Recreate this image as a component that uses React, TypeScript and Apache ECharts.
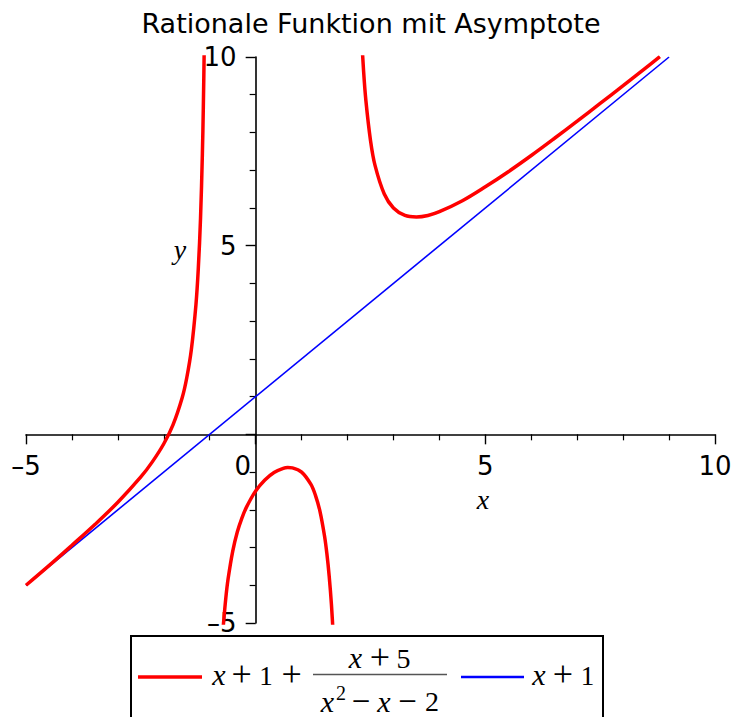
import React, { useEffect, useRef } from "react";
import * as echarts from "echarts";

const TITLE = "Rationale Funktion mit Asymptote";

// f(x) = x + 1 + (x + 5) / (x² − x − 2), branch left of the pole at x = −1
const leftBranchX = [-5, -4.5, -4, -3.5, -3, -2.5, -2.25, -2, -1.8, -1.6, -1.5, -1.4, -1.3, -1.25, -1.2, -1.16, -1.14, -1.12, -1.1];
const leftBranchY = [-4, -3.48, -2.94, -2.39, -1.8, -1.13, -0.73, -0.25, 0.25, 0.97, 1.5, 2.25, 3.44, 4.37, 5.74, 7.44, 8.64, 10.24, 12.5];

// branch between the poles at x = −1 and x = 2
const midBranchX = [-0.72, -0.7, -0.65, -0.6, -0.5, -0.4, -0.3, -0.2, 0, 0.2, 0.4, 0.6, 0.7, 0.8, 1.0, 1.2, 1.3, 1.4, 1.5, 1.55, 1.6, 1.65, 1.7];
const midBranchY = [-5.34, -5.01, -4.34, -3.83, -3.1, -2.59, -2.22, -1.93, -1.5, -1.21, -1.01, -0.9, -0.88, -0.89, -1.0, -1.32, -1.61, -2.04, -2.7, -3.16, -3.75, -4.52, -5.57];

// branch right of the pole at x = 2
const rightBranchX = [2.28, 2.3, 2.35, 2.4, 2.5, 2.6, 2.8, 3, 3.25, 3.5, 3.75, 4, 4.5, 5, 5.5, 6, 6.5, 7, 7.5, 8, 8.5, 8.8];
const rightBranchY = [11.21, 10.67, 9.62, 8.84, 7.79, 7.12, 6.37, 6, 5.8, 5.76, 5.8, 5.9, 6.19, 6.56, 6.96, 7.39, 7.84, 8.3, 8.77, 9.24, 9.72, 10.01];

// oblique asymptote y = x + 1
const asymptoteX = [-5, 9];
const asymptoteY = [-4, 10];

const X_RANGE = [-5, 10];
const Y_RANGE = [-5, 10];
const MAJOR_STEP = 5;

const WIDTH = 731;
const HEIGHT = 717;
const GRID = { left: 26, right: 16, top: 57, bottom: 94 };

const SANS = "DejaVu Sans";
const SERIF = "Liberation Serif";
const RED = "#ff0000";
const BLUE = "#0000ff";

const zip = (xs: number[], ys: number[]) => xs.map((x, i) => [x, ys[i]]);
const tickText = (v: number) => (v < 0 ? "\u2013" + Math.abs(v) : String(v));

// one glyph of the legend formula: letters and digits sit on a baseline,
// operators are centred on the math axis of their line
type Glyph = { t: string; cx: number; y: number; size: number; italic?: boolean; op?: boolean };

const MAIN = { base: 685, axis: 677.3 };
const NUM = { base: 668, axis: 660.5 };
const DEN = { base: 711.5, axis: 703.5 };
const OP_SIZE = 36;
const DEN_OP_SIZE = 33;

const formulaGlyphs: Glyph[] = [
  // x + 1 +
  { t: "x", cx: 219, y: MAIN.base, size: 30, italic: true },
  { t: "+", cx: 241.7, y: MAIN.axis, size: OP_SIZE, op: true },
  { t: "1", cx: 266, y: MAIN.base, size: 27 },
  { t: "+", cx: 291.7, y: MAIN.axis, size: OP_SIZE, op: true },
  // numerator x + 5
  { t: "x", cx: 355.5, y: NUM.base, size: 30, italic: true },
  { t: "+", cx: 380, y: NUM.axis, size: OP_SIZE, op: true },
  { t: "5", cx: 403.5, y: NUM.base, size: 28 },
  // denominator x² − x − 2
  { t: "x", cx: 327.5, y: DEN.base, size: 30, italic: true },
  { t: "2", cx: 341, y: 700, size: 20 },
  { t: "\u2212", cx: 361, y: DEN.axis, size: DEN_OP_SIZE, op: true },
  { t: "x", cx: 384, y: DEN.base, size: 30, italic: true },
  { t: "\u2212", cx: 407.5, y: DEN.axis, size: DEN_OP_SIZE, op: true },
  { t: "2", cx: 432, y: DEN.base, size: 28 },
  // x + 1
  { t: "x", cx: 539, y: MAIN.base, size: 30, italic: true },
  { t: "+", cx: 563, y: MAIN.axis, size: OP_SIZE, op: true },
  { t: "1", cx: 587.5, y: MAIN.base, size: 27 },
];

function glyphElement(g: Glyph) {
  // middle of the em box lies ~0.34em above the baseline, the operator bars ~0.25em
  const y = g.op ? g.y - 0.087 * g.size : g.y - 0.34 * g.size;
  return {
    type: "text",
    x: g.cx,
    y,
    z: 11,
    style: {
      text: g.t,
      align: "center",
      verticalAlign: "middle",
      fontFamily: SERIF,
      fontStyle: g.italic ? "italic" : "normal",
      fontSize: g.size,
      lineHeight: g.op ? 20 : g.size,
      fill: "#000",
    },
  };
}

function buildOption(): echarts.EChartsOption {
  const gridW = WIDTH - GRID.left - GRID.right;
  const gridH = HEIGHT - GRID.top - GRID.bottom;
  // both axes cross at the origin
  const xAxisOffset = -gridH * (0 - Y_RANGE[0]) / (Y_RANGE[1] - Y_RANGE[0]);
  const yAxisOffset = -gridW * (0 - X_RANGE[0]) / (X_RANGE[1] - X_RANGE[0]);

  const curve = (name: string, xs: number[], ys: number[]) => ({
    name,
    type: "line" as const,
    data: zip(xs, ys),
    showSymbol: false,
    smooth: 0.35,
    clip: true,
    lineStyle: { color: RED, width: 3.5, cap: "butt" as const },
    z: 3,
  });

  const axisCommon = {
    type: "value" as const,
    interval: MAJOR_STEP,
    axisLine: { show: true, onZero: false, lineStyle: { color: "#000", width: 1.6 } },
    axisTick: { show: true, length: 10, lineStyle: { color: "#000", width: 1.4 } },
    minorTick: { show: true, splitNumber: 5, length: 6, lineStyle: { color: "#000", width: 1.2 } },
    splitLine: { show: false },
    minorSplitLine: { show: false },
  };

  const labelFont = { fontFamily: SANS, fontSize: 26, color: "#000" };

  return {
    animation: false,
    backgroundColor: "#fff",
    grid: { ...GRID, containLabel: false, outerBoundsMode: "none" } as any,
    xAxis: {
      ...axisCommon,
      position: "bottom",
      offset: xAxisOffset,
      min: X_RANGE[0],
      max: X_RANGE[1],
      axisLabel: {
        ...labelFont,
        margin: 19,
        showMinLabel: true,
        showMaxLabel: true,
        hideOverlap: false,
        formatter: (v: number) => (v === 0 ? "{zero|0}" : tickText(v)),
        rich: { zero: { ...labelFont, padding: [0, 26, 0, 0] } },
      },
    },
    yAxis: {
      ...axisCommon,
      position: "left",
      offset: yAxisOffset,
      min: Y_RANGE[0],
      max: Y_RANGE[1],
      axisLabel: {
        ...labelFont,
        margin: 19,
        showMinLabel: true,
        showMaxLabel: true,
        hideOverlap: false,
        formatter: (v: number) => (v === 0 ? "" : tickText(v)),
      },
    },
    series: [
      curve("f-left", leftBranchX, leftBranchY),
      curve("f-mid", midBranchX, midBranchY),
      curve("f-right", rightBranchX, rightBranchY),
      {
        name: "asymptote",
        type: "line",
        data: zip(asymptoteX, asymptoteY),
        showSymbol: false,
        clip: true,
        lineStyle: { color: BLUE, width: 1.6 },
        z: 2,
      },
    ],
    graphic: [
      {
        type: "text",
        x: 371,
        y: 23,
        style: {
          text: TITLE,
          align: "center",
          verticalAlign: "middle",
          fontFamily: SANS,
          fontSize: 27,
          fill: "#000",
        },
      },
      {
        type: "text",
        x: 180,
        y: 249,
        style: {
          text: "y",
          align: "center",
          verticalAlign: "middle",
          fontFamily: SERIF,
          fontStyle: "italic",
          fontSize: 28,
          fill: "#000",
        },
      },
      {
        type: "text",
        x: 483,
        y: 499,
        style: {
          text: "x",
          align: "center",
          verticalAlign: "middle",
          fontFamily: SERIF,
          fontStyle: "italic",
          fontSize: 28,
          fill: "#000",
        },
      },
      // legend box
      {
        type: "rect",
        shape: { x: 131, y: 636, width: 472, height: 100 },
        style: { fill: "#fff", stroke: "#000", lineWidth: 2 },
        z: 10,
      },
      {
        type: "line",
        shape: { x1: 138, y1: 677, x2: 202, y2: 677 },
        style: { stroke: RED, lineWidth: 3.5 },
        z: 11,
      },
      {
        type: "line",
        shape: { x1: 313, y1: 674.5, x2: 447, y2: 674.5 },
        style: { stroke: "#555", lineWidth: 1.3 },
        z: 11,
      },
      {
        type: "line",
        shape: { x1: 461, y1: 677, x2: 524, y2: 677 },
        style: { stroke: BLUE, lineWidth: 2.5 },
        z: 11,
      },
      ...formulaGlyphs.map(glyphElement),
    ],
  } as echarts.EChartsOption;
}

export default function App() {
  const ref = useRef<HTMLDivElement>(null);

  useEffect(() => {
    if (!ref.current) return;
    const chart = echarts.init(ref.current, undefined, { renderer: "svg" });
    chart.setOption(buildOption());
    return () => chart.dispose();
  }, []);

  return (
    <div
      ref={ref}
      style={{ position: "absolute", left: 0, top: 0, width: WIDTH, height: HEIGHT, background: "#fff" }}
    />
  );
}
